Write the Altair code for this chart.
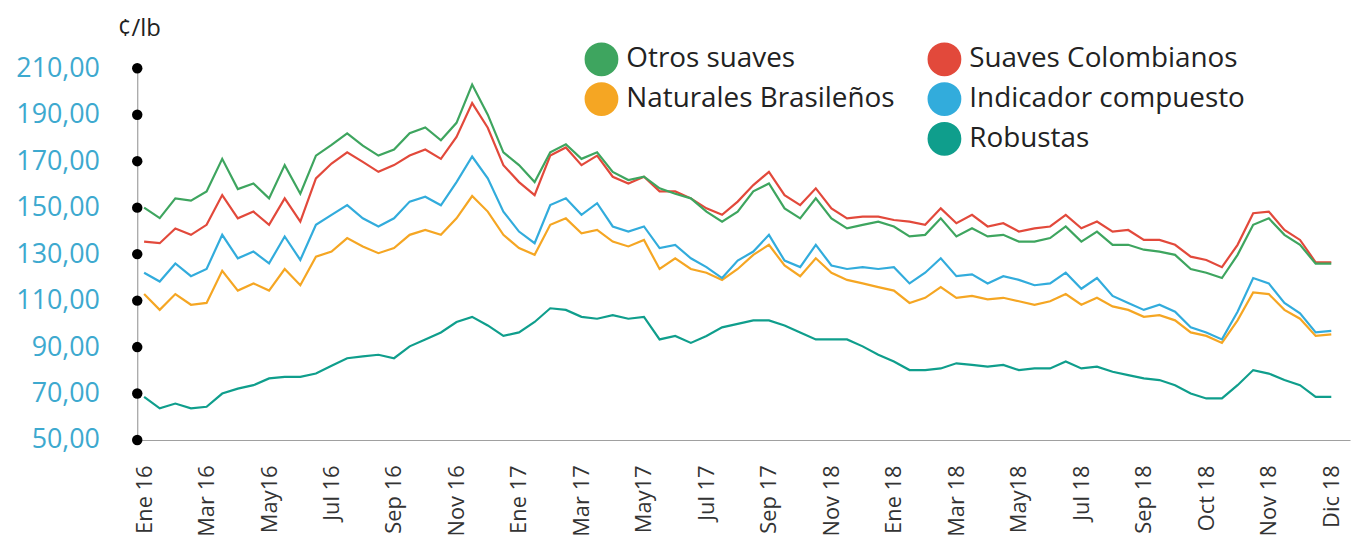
import json
import altair as alt
import pandas as pd

# ---------------- data ----------------
month_labels = ["Ene 16", "Mar 16", "May16", "Jul 16", "Sep 16", "Nov 16", "Ene 17",
                "Mar 17", "May17", "Jul 17", "Sep 17", "Nov 18", "Ene 18", "Mar 18",
                "May18", "Jul 18", "Sep 18", "Oct 18", "Nov 18", "Dic 18"]

# position along the time axis (label index, quarter steps)
positions = [i * 0.25 for i in range(77)]

otros_suaves = [150, 145.5, 154, 153, 157, 171, 158, 160.4, 154, 168.3, 156, 172.4, 177,
                182, 176.7, 172.4, 175, 182, 184.5, 179, 186.5, 203, 190, 173.8, 168.3, 161,
                173.8, 177.3, 171, 173.8, 165.4, 161.9, 163.3, 158.3, 156, 154, 148.3, 144, 148.3,
                157, 160.4, 149.7, 145.4, 154, 145.4, 141.1, 142.6, 144, 141.9, 137.6, 138.3, 145.4, 137.6,
                141.1, 137.6, 138.3, 135.4, 135.4, 136.9, 141.9, 135.4, 139.7, 134, 134, 131.9, 131.1,
                129.7, 123.6, 122, 119.7, 129.7, 142.6, 145.4, 138.3, 134, 125.9, 125.9]

suaves_colombianos = [135.4, 134.7, 141, 138.3, 142.6, 155.4, 145.4, 148.3, 142.6, 154, 144, 162.6, 169,
                      173.8, 169.7, 165.4, 168.3, 172.4, 175, 171, 180.4, 195, 184.4, 168.3, 161, 155.4,
                      172.4, 175.9, 168.3, 172.4, 163.3, 160.4, 163.3, 157, 157, 154, 149.7, 146.9, 152.6,
                      159.7, 165.4, 155.4, 151.1, 158.3, 149.7, 145.4, 146.1, 146.1, 144.7, 144, 142.6, 149.7, 143.3,
                      146.9, 141.9, 143.3, 139.7, 141.1, 141.9, 146.9, 141.1, 144, 139.7, 140.4, 136.1, 136.1,
                      134, 128.9, 127.5, 124.4, 134, 147.6, 148.3, 140.4, 136.1, 126.5, 126.5]

indicador_compuesto = [122, 118.2, 126, 120.5, 123.6, 138.3, 128.2, 131.1, 126, 137.6, 127.5, 142.6, 146.9,
                       151.1, 145.4, 141.9, 145.4, 152.6, 154.7, 151, 161, 172, 162.6, 148.3, 139.7, 134.7,
                       151.1, 154, 146.9, 151.9, 141.9, 139.7, 141.9, 132.6, 134, 128.2, 124.4, 119.7, 127.2,
                       131.1, 138.3, 127.2, 124.4, 134, 125.1, 123.6, 124.4, 123.6, 124.4, 117.4, 122, 128.2, 120.5,
                       121.3, 117.4, 120.5, 118.9, 116.6, 117.4, 122, 115.1, 119.7, 112, 109, 106, 108.2,
                       105.2, 98.5, 96.3, 93.3, 105.2, 119.7, 117.4, 109, 104.5, 96.3, 97]

naturales_brasilenos = [112.8, 106, 112.8, 108.2, 109, 122.8, 114.3, 117.4, 114.3, 123.6, 116.6, 128.9, 131.1,
                        136.9, 133.3, 130.4, 132.6, 138.3, 140.4, 138.3, 145.4, 155, 148.3, 138.3, 132.6, 129.7,
                        142.6, 145.4, 139, 140.4, 135.4, 133.3, 136.1, 123.6, 128.2, 123.6, 122, 118.9, 123.6,
                        129.7, 134, 125.1, 120.5, 128.2, 122, 118.9, 117.4, 115.8, 114.3, 109, 111.2, 115.8, 111.2,
                        112, 110.5, 111.2, 109.7, 108.2, 109.7, 112.8, 108.2, 111.2, 107.5, 106, 103, 103.7,
                        101.5, 96.3, 94.8, 91.8, 101.5, 113.5, 112.8, 106, 102.2, 94.8, 95.5]

robustas = [68.6, 63.6, 65.7, 63.6, 64.3, 70, 72.1, 73.6, 76.5, 77.2, 77.2, 78.6, 82,
            85.2, 86, 86.7, 85.2, 90.3, 93.3, 96.3, 100.8, 103, 99.3, 94.8, 96.3, 100.8,
            106.7, 106, 103, 102.2, 103.7, 102.2, 103, 93.3, 94.8, 91.8, 94.8, 98.5, 100,
            101.5, 101.5, 99.3, 96.3, 93.3, 93.3, 93.3, 90.3, 86.7, 83.8, 80.1, 80.1, 80.8, 83,
            82.3, 81.6, 82.3, 80.1, 80.8, 80.8, 83.8, 80.8, 81.6, 79.4, 77.9, 76.5, 75.8,
            73.6, 70, 67.9, 67.9, 73.6, 80.1, 78.6, 75.8, 73.6, 68.6, 68.6]

y_ticks = [50, 70, 90, 110, 130, 150, 170, 190, 210]

# series in drawing order: (name, values, colour, legend column, legend row)
series = [
    ("Robustas", robustas, "#0f9e8c", 1, 2),
    ("Naturales Brasileños", naturales_brasilenos, "#f5a623", 0, 1),
    ("Indicador compuesto", indicador_compuesto, "#32acdc", 1, 1),
    ("Suaves Colombianos", suaves_colombianos, "#e2493b", 1, 0),
    ("Otros suaves", otros_suaves, "#3ea55f", 0, 0),
]

FONT = "Open Sans"
yscale = alt.Scale(domain=[50, 210], nice=False, zero=False)
xscale = alt.Scale(domain=[-0.11, 19.3], nice=False, zero=False)

xaxis = alt.Axis(values=list(range(len(month_labels))),
                 labelExpr=json.dumps(month_labels) + "[datum.value]",
                 labelAngle=270, labelAlign="right", labelBaseline="middle",
                 labelPadding=25, labelFontSize=22, labelFont=FONT, labelColor="#333333",
                 labelOverlap=False, labelFlush=False, labelBound=False,
                 ticks=False, grid=False, domainColor="#a0a0a0", domainWidth=1.2,
                 title="")

yaxis = alt.Axis(values=y_ticks,
                 labelExpr="replace(format(datum.value, '.2f'), '.', ',')",
                 labelFontSize=27, labelFont=FONT, labelColor="#3da9cf",
                 labelPadding=38, labelFlush=False, labelOverlap=False,
                 ticks=False, grid=False, domainColor="#a0a0a0", domainWidth=1.2,
                 title="¢/lb", titleAngle=0, titleAlign="left", titleBaseline="middle",
                 titleX=-20, titleY=-40, titleFontSize=24, titleFont=FONT,
                 titleFontWeight="normal", titleColor="#222222")

leg_common = dict(symbolType="circle", symbolSize=289, symbolStrokeWidth=17,
                  labelFontSize=28, labelFont=FONT, labelColor="#222222",
                  labelLimit=600, labelOffset=8, padding=0,
                  orient="none", title=None)

col_x = [450, 795]
row_y = [-26, 14, 54]

layers = []
for name, vals, colour, col, row in series:
    df = pd.DataFrame({"t": positions, "v": vals, "serie": name})
    leg = alt.Legend(legendX=col_x[col], legendY=row_y[row], **leg_common)
    layers.append(alt.Chart(df).mark_line(strokeWidth=2.2).encode(
        x=alt.X("t:Q", scale=xscale, axis=xaxis),
        y=alt.Y("v:Q", scale=yscale, axis=yaxis),
        color=alt.Color("serie:N", scale=alt.Scale(domain=[name], range=[colour]), legend=leg),
    ))

dft = pd.DataFrame({"v": y_ticks})
dots = alt.Chart(dft).mark_point(filled=True, size=110, color="black", opacity=1).encode(
    y=alt.Y("v:Q", scale=yscale, axis=yaxis),
    x=alt.value(0),
)
layers.append(dots)

chart = alt.layer(*layers).resolve_scale(color="independent").properties(
    width=1220, height=374,
    padding={"left": 130, "top": 59, "right": 5, "bottom": 100},
    autosize=alt.AutoSizeParams(type="none"),
    background="white",
).configure_view(stroke=None)

chart.save("out.html", embed_options={"renderer": "svg", "actions": False})
